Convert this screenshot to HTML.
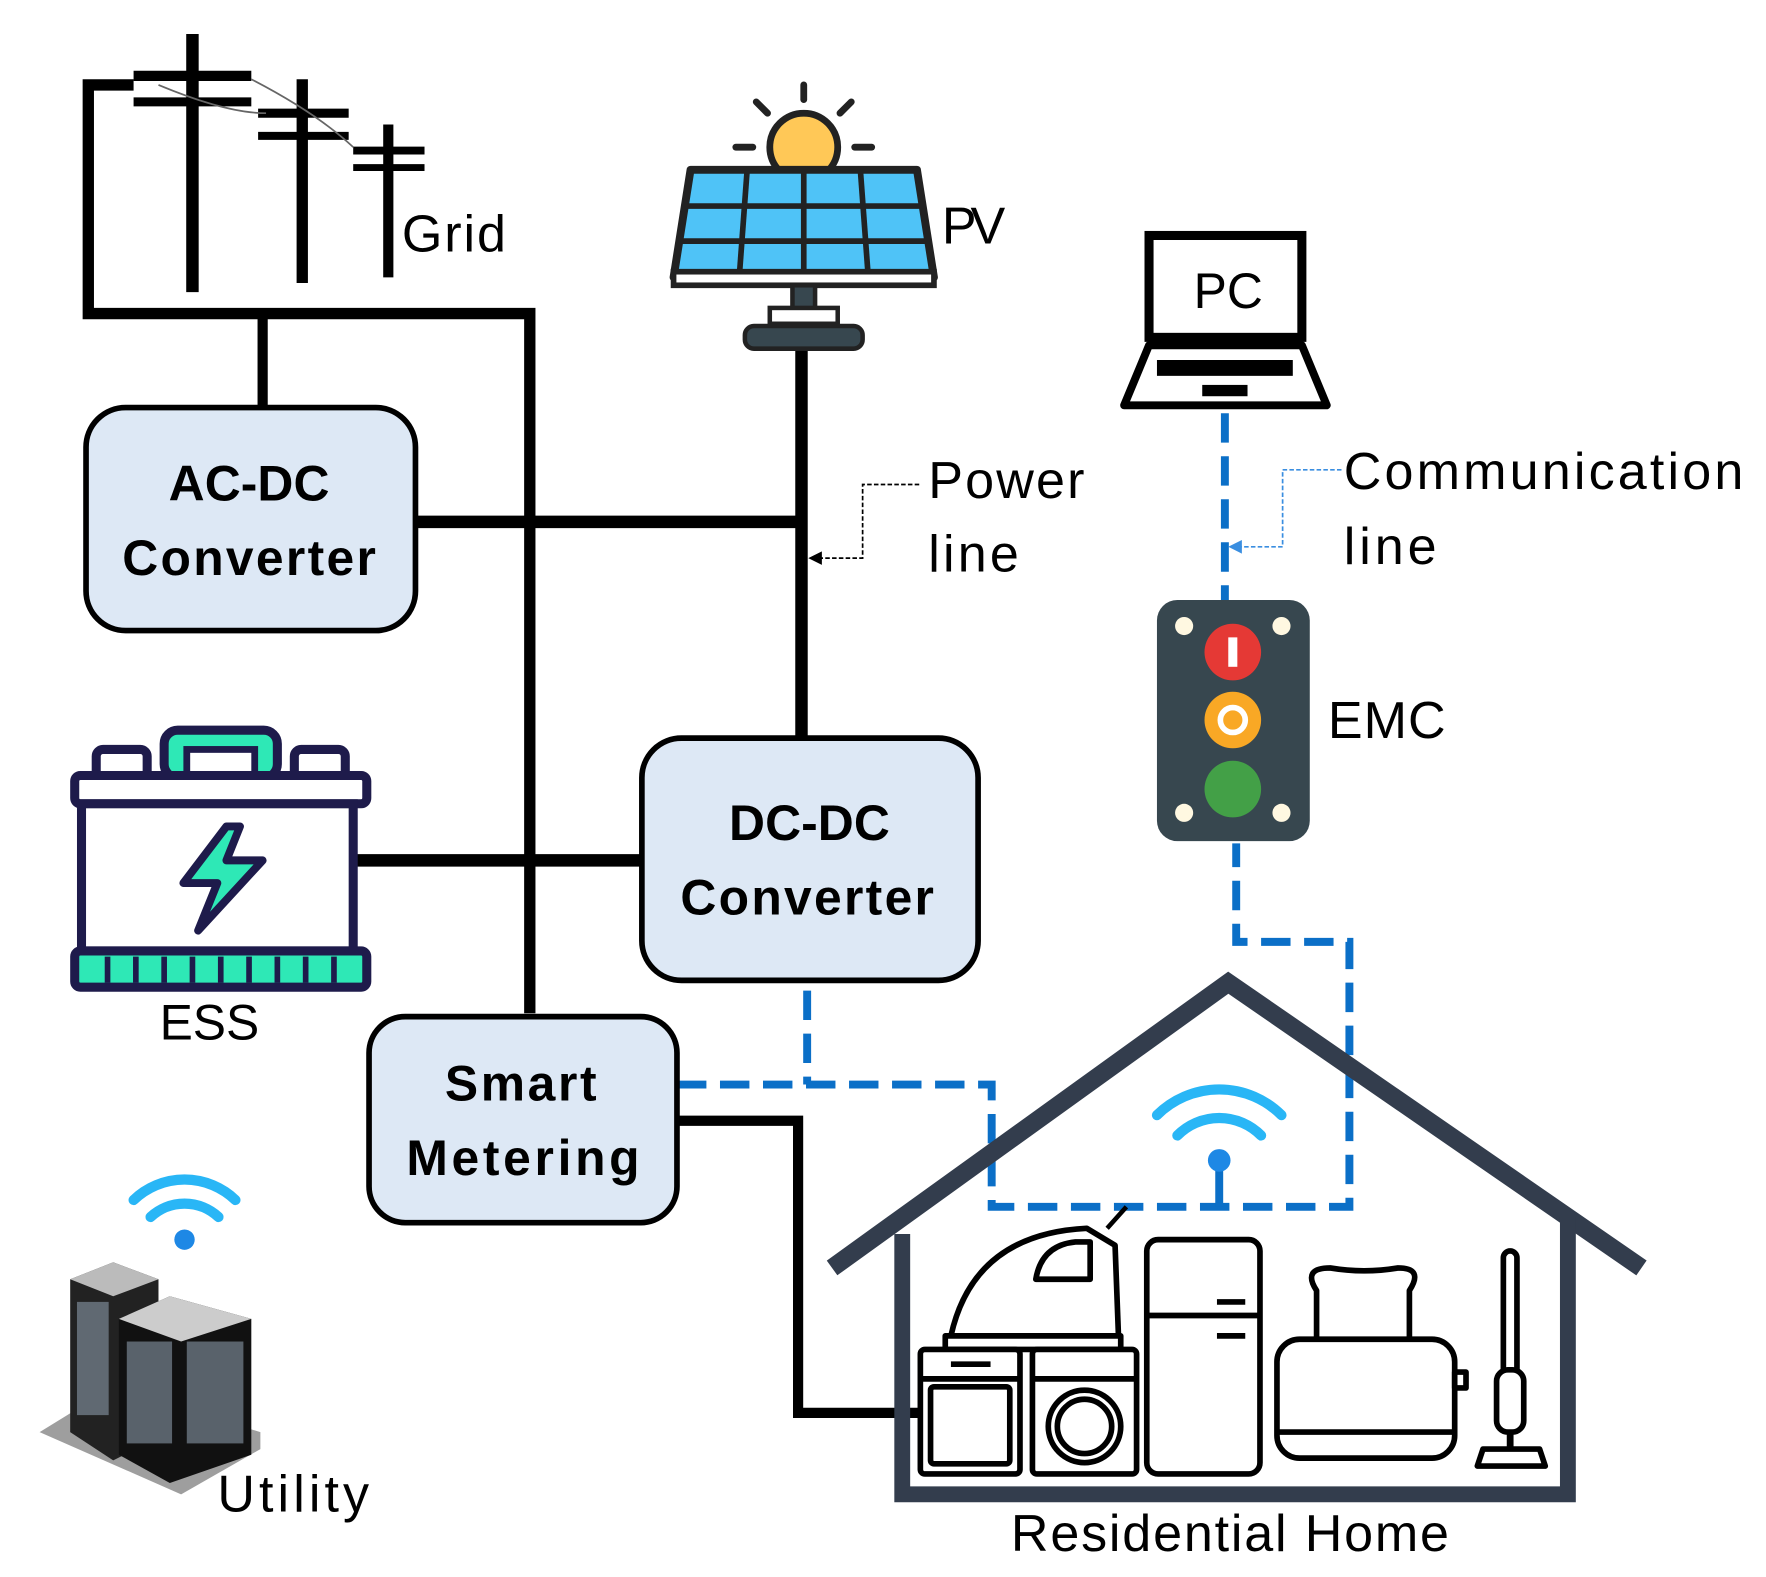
<!DOCTYPE html>
<html><head><meta charset="utf-8"><style>
html,body{margin:0;padding:0;background:#fff;}
svg{display:block;}
text{font-family:"Liberation Sans",sans-serif;}
</style></head><body>
<svg width="1766" height="1577" viewBox="0 0 1560 1393" preserveAspectRatio="none" xmlns="http://www.w3.org/2000/svg">
<rect width="1560" height="1393" fill="#fff"/>
<g stroke="#000" fill="none">
<polyline points="118,75 78,75 78,277 468,277 468,895" stroke-width="10"/>
<line x1="232" y1="277" x2="232" y2="360" stroke-width="9"/>
<line x1="170" y1="30" x2="170" y2="258" stroke-width="11"/>
<line x1="118" y1="67" x2="222" y2="67" stroke-width="9"/>
<line x1="118" y1="90" x2="222" y2="90" stroke-width="8"/>
<line x1="267" y1="70" x2="267" y2="250" stroke-width="10"/>
<line x1="228" y1="100" x2="308" y2="100" stroke-width="8"/>
<line x1="228" y1="120" x2="308" y2="120" stroke-width="7"/>
<line x1="343" y1="110" x2="343" y2="245" stroke-width="9"/>
<line x1="312" y1="133" x2="375" y2="133" stroke-width="7"/>
<line x1="312" y1="148" x2="375" y2="148" stroke-width="6"/>
<path d="M140,75 Q200,100 235,100 M222,70 Q280,100 312,130" stroke-width="1.5" stroke="#666"/>
</g>
<text x="355" y="222" font-size="46" textLength="92">Grid</text>
<g stroke="#000" fill="none" stroke-width="11">
<line x1="367" y1="461" x2="708" y2="461"/>
<line x1="708" y1="305" x2="708" y2="652"/>
<line x1="310" y1="760" x2="567" y2="760"/>
<polyline points="598,990 705,990 705,1248 812,1248" stroke-width="9"/>
</g>
<g stroke="#0b6fc7" fill="none" stroke-width="7" stroke-dasharray="26,12">
<line x1="713" y1="875" x2="713" y2="958"/>
<polyline points="598,958 876,958 876,1066 1192,1066 1192,832 1092,832 1092,745"/>
<line x1="1082" y1="365" x2="1082" y2="530"/>
<line x1="1077" y1="1030" x2="1077" y2="1066" stroke-dasharray="none"/>
</g>
<g fill="#dde8f5" stroke="#000" stroke-width="5">
<rect x="76" y="360" width="291" height="197" rx="35"/>
<rect x="567" y="652" width="297" height="214" rx="35"/>
<rect x="326" y="898" width="272" height="182" rx="32"/>
</g>
<g font-size="44" font-weight="bold" text-anchor="middle">
<text x="220" y="442" textLength="142">AC-DC</text><text x="220" y="508" textLength="224">Converter</text>
<text x="715" y="742" textLength="142">DC-DC</text><text x="713" y="808" textLength="224">Converter</text>
<text x="460" y="972" textLength="134">Smart</text><text x="462" y="1038" textLength="206">Metering</text>
</g>
<polyline points="812,428 762,428 762,493 724,493" fill="none" stroke="#000" stroke-width="1.5" stroke-dasharray="4,2"/>
<polygon points="714,493 726,487 726,499" fill="#000"/>
<text x="820" y="440" font-size="46" textLength="138">Power</text><text x="820" y="505" font-size="46" textLength="80">line</text>
<polyline points="1185,415 1133,415 1133,483 1095,483" fill="none" stroke="#3a8ee0" stroke-width="1.5" stroke-dasharray="4,2"/>
<polygon points="1085,483 1097,477 1097,489" fill="#3a8ee0"/>
<text x="1187" y="432" font-size="46" textLength="353">Communication</text><text x="1187" y="498" font-size="46" textLength="82">line</text>
<g stroke="#222" stroke-width="6" stroke-linecap="round">
<line x1="710" y1="75" x2="710" y2="88"/><line x1="668" y1="90" x2="678" y2="100"/><line x1="752" y1="90" x2="742" y2="100"/>
<line x1="650" y1="130" x2="665" y2="130"/><line x1="755" y1="130" x2="770" y2="130"/>
</g>
<circle cx="710" cy="130" r="30" fill="#ffc857" stroke="#222" stroke-width="6"/>
<polygon points="610,150 810,150 825,245 595,245" fill="#4fc3f7" stroke="#222" stroke-width="7" stroke-linejoin="round"/>
<g stroke="#222" stroke-width="5"><line x1="660" y1="150" x2="653" y2="245"/><line x1="710" y1="150" x2="710" y2="245"/><line x1="760" y1="150" x2="767" y2="245"/>
<line x1="605" y1="182" x2="815" y2="182"/><line x1="600" y1="213" x2="820" y2="213"/></g>
<rect x="595" y="240" width="230" height="12" fill="#fff" stroke="#222" stroke-width="5"/>
<rect x="700" y="252" width="20" height="22" fill="#37474f" stroke="#222" stroke-width="4"/>
<rect x="680" y="272" width="60" height="14" fill="#fff" stroke="#222" stroke-width="4"/>
<rect x="658" y="288" width="104" height="20" rx="8" fill="#37474f" stroke="#222" stroke-width="4"/>
<text x="832" y="215" font-size="46" textLength="56">PV</text>
<rect x="1015" y="208" width="135" height="90" fill="#fff" stroke="#000" stroke-width="8"/>
<text x="1085" y="272" font-size="44" text-anchor="middle">PC</text>
<polygon points="1015,305 1150,305 1172,358 993,358" fill="#fff" stroke="#000" stroke-width="7" stroke-linejoin="round"/>
<rect x="1022" y="318" width="120" height="14" fill="#000"/>
<rect x="1062" y="340" width="40" height="10" fill="#000"/>
<rect x="1022" y="530" width="135" height="213" rx="18" fill="#37474f"/>
<circle cx="1089" cy="576" r="25" fill="#e53935"/><rect x="1085" y="563" width="8" height="26" fill="#fff"/>
<circle cx="1089" cy="636" r="25" fill="#f9a825"/><circle cx="1089" cy="636" r="11" fill="none" stroke="#fff" stroke-width="5"/>
<circle cx="1089" cy="697" r="25" fill="#43a047"/>
<g fill="#fff8e1"><circle cx="1046" cy="553" r="8"/><circle cx="1132" cy="553" r="8"/><circle cx="1046" cy="718" r="8"/><circle cx="1132" cy="718" r="8"/></g>
<text x="1173" y="652" font-size="46" textLength="104">EMC</text>
<rect x="85" y="662" width="45" height="25" rx="6" fill="#fff" stroke="#1e1b4b" stroke-width="8"/>
<rect x="260" y="662" width="45" height="25" rx="6" fill="#fff" stroke="#1e1b4b" stroke-width="8"/>
<rect x="145" y="645" width="100" height="42" rx="12" fill="#2ee8b6" stroke="#1e1b4b" stroke-width="8"/>
<rect x="165" y="662" width="60" height="25" fill="#fff" stroke="#1e1b4b" stroke-width="6"/>
<rect x="66" y="685" width="258" height="25" rx="5" fill="#fff" stroke="#1e1b4b" stroke-width="8"/>
<rect x="72" y="710" width="240" height="130" fill="#fff" stroke="#1e1b4b" stroke-width="8"/>
<rect x="66" y="840" width="258" height="32" rx="5" fill="#2ee8b6" stroke="#1e1b4b" stroke-width="8"/>
<g stroke="#1e1b4b" stroke-width="5"><line x1="95" y1="845" x2="95" y2="868"/><line x1="120" y1="845" x2="120" y2="868"/><line x1="145" y1="845" x2="145" y2="868"/><line x1="170" y1="845" x2="170" y2="868"/><line x1="195" y1="845" x2="195" y2="868"/><line x1="220" y1="845" x2="220" y2="868"/><line x1="245" y1="845" x2="245" y2="868"/><line x1="270" y1="845" x2="270" y2="868"/><line x1="295" y1="845" x2="295" y2="868"/></g>
<polygon points="200,730 162,780 192,780 175,822 232,760 200,760 212,730" fill="#2ee8b6" stroke="#1e1b4b" stroke-width="7" stroke-linejoin="round"/>
<text x="185" y="918" font-size="44" text-anchor="middle">ESS</text>
<g fill="none" stroke="#29b6f6" stroke-width="9" stroke-linecap="round">
<path d="M118,1060 A65,65 0 0 1 208,1060"/><path d="M133,1075 A44,44 0 0 1 193,1075"/>
</g>
<circle cx="163" cy="1095" r="9" fill="#1e88e5"/>
<polygon points="35,1265 160,1320 230,1280 230,1265 100,1225" fill="#9e9e9e"/>
<polygon points="62,1130 100,1115 140,1130 140,1270 100,1290 62,1265" fill="#222"/>
<polygon points="62,1130 100,1115 140,1130 100,1145" fill="#bbb"/>
<polygon points="105,1165 150,1145 222,1165 222,1285 150,1310 105,1285" fill="#111"/>
<polygon points="105,1165 150,1145 222,1165 160,1185" fill="#ccc"/>
<g fill="#8a9aa8"><rect x="112" y="1185" width="40" height="90" opacity="0.6"/><rect x="165" y="1185" width="50" height="90" opacity="0.6"/><rect x="68" y="1150" width="28" height="100" opacity="0.6"/></g>
<text x="192" y="1335" font-size="46" textLength="134">Utility</text>
<polyline points="735,1120 1085,868 1450,1120" fill="none" stroke="#333d4d" stroke-width="16"/>
<polyline points="797,1090 797,1320 1385,1320 1385,1075" fill="none" stroke="#333d4d" stroke-width="14"/>
<g fill="none" stroke="#29b6f6" stroke-width="9" stroke-linecap="round">
<path d="M1022,985 A78,78 0 0 1 1132,985"/><path d="M1040,1003 A52,52 0 0 1 1114,1003"/>
</g>
<circle cx="1077" cy="1025" r="10" fill="#1e88e5"/>
<g fill="#fff" stroke="#000" stroke-width="5" stroke-linejoin="round">
<path d="M840,1180 Q860,1090 960,1085 L985,1100 L988,1180 Z"/>
<path d="M915,1130 Q920,1100 950,1097 L963,1097 L963,1130 Z"/>
<rect x="835" y="1180" width="155" height="12"/>
<rect x="813" y="1192" width="88" height="110" rx="4"/><line x1="813" y1="1218" x2="901" y2="1218"/><rect x="822" y="1225" width="70" height="68" rx="3"/>
<rect x="912" y="1192" width="92" height="110" rx="4"/><line x1="912" y1="1218" x2="1004" y2="1218"/><circle cx="958" cy="1260" r="32"/><circle cx="958" cy="1260" r="24"/>
<rect x="1013" y="1095" width="100" height="207" rx="10"/><line x1="1013" y1="1162" x2="1113" y2="1162"/>
<path d="M1163,1185 L1163,1140 Q1150,1120 1175,1120 Q1205,1125 1235,1120 Q1258,1120 1245,1140 L1245,1185"/>
<rect x="1128" y="1183" width="157" height="105" rx="20"/><line x1="1128" y1="1265" x2="1285" y2="1265"/>
<rect x="1285" y="1212" width="10" height="14"/>
<rect x="1328" y="1105" width="12" height="150" rx="6"/><rect x="1322" y="1210" width="24" height="55" rx="10"/>
<polygon points="1305,1295 1310,1280 1360,1280 1365,1295"/>
</g>
<line x1="978" y1="1085" x2="995" y2="1066" stroke="#000" stroke-width="4"/>
<line x1="1334" y1="1265" x2="1334" y2="1280" stroke="#000" stroke-width="6"/>
<g stroke="#000" stroke-width="5"><line x1="1075" y1="1150" x2="1100" y2="1150"/><line x1="1075" y1="1180" x2="1100" y2="1180"/><line x1="840" y1="1205" x2="875" y2="1205"/></g>
<text x="893" y="1370" font-size="46" textLength="387">Residential Home</text>
</svg>
</body></html>
